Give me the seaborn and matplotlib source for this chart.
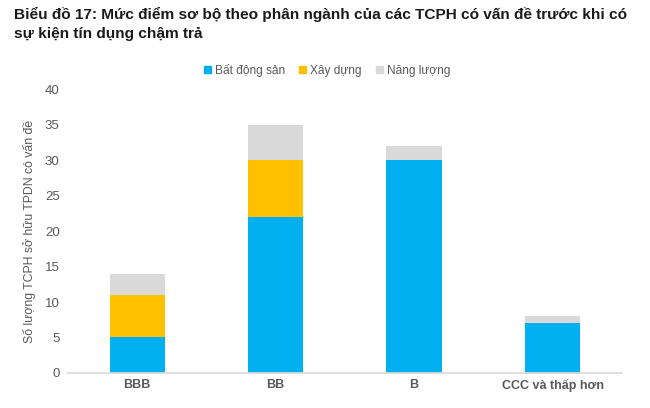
import numpy as np
import pandas as pd
import seaborn as sns
import matplotlib.pyplot as plt
from matplotlib.patches import Patch

hang = ['BBB', 'BB', 'B', 'CCC và thấp hơn']
bat_dong_san = [5, 22, 30, 7]
xay_dung = [6, 8, 0, 0]
nang_luong = [3, 5, 2, 1]

sns.set_theme(style='white')
plt.rcParams['font.family'] = ['Liberation Sans', 'DejaVu Sans']

df = pd.DataFrame({'hang': hang, 'bds': bat_dong_san, 'xd': xay_dung, 'nl': nang_luong})
df['c1'] = df['bds']
df['c2'] = df['bds'] + df['xd']
df['c3'] = df['c2'] + df['nl']

fig = plt.figure(figsize=(6.5, 4.08), dpi=100)
ax = fig.add_axes([0.1046, 0.0858, 0.852, 0.696])

# ve chong tu tren xuong de ra cot xep chong
sns.barplot(data=df, x='hang', y='c3', color='#D9D9D9', width=0.4, ax=ax, saturation=1, linewidth=0)
sns.barplot(data=df, x='hang', y='c2', color='#FFC000', width=0.4, ax=ax, saturation=1, linewidth=0)
sns.barplot(data=df, x='hang', y='c1', color='#00B0F0', width=0.4, ax=ax, saturation=1, linewidth=0)

ax.set_ylim(0, 40)
ax.set_yticks(range(0, 41, 5))
ax.set_xlim(-0.5, 3.5)
ax.set_xlabel('')
ax.set_ylabel('Số lượng TCPH sở hữu TPDN có vấn đề', fontsize=8.8, color='#595959', labelpad=6)
for s in ['top', 'right', 'left']:
    ax.spines[s].set_visible(False)
ax.spines['bottom'].set_color('#D9D9D9')
ax.tick_params(axis='y', labelsize=9.5, colors='#595959', length=0, pad=6)
ax.tick_params(axis='x', labelsize=9, colors='#595959', length=0, pad=4)
for t in ax.get_xticklabels():
    t.set_fontweight('bold')

handles = [Patch(color='#00B0F0', label='Bất động sản'),
           Patch(color='#FFC000', label='Xây dựng'),
           Patch(color='#D9D9D9', label='Năng lượng')]
fig.legend(handles=handles, loc='center', bbox_to_anchor=(0.503, 0.828), ncol=3,
           frameon=False, fontsize=8.6, labelcolor='#595959', handlelength=0.6,
           handleheight=0.6, handletextpad=0.3, columnspacing=1.2)

fig.text(0.021, 0.982, 'Biểu đồ 17: Mức điểm sơ bộ theo phân ngành của các TCPH có vấn đề trước khi có\nsự kiện tín dụng chậm trả',
         fontsize=11.1, fontweight='bold', color='#1a1a1a',
         va='top', ha='left', linespacing=1.45)

fig.savefig('out.png', dpi=100)
